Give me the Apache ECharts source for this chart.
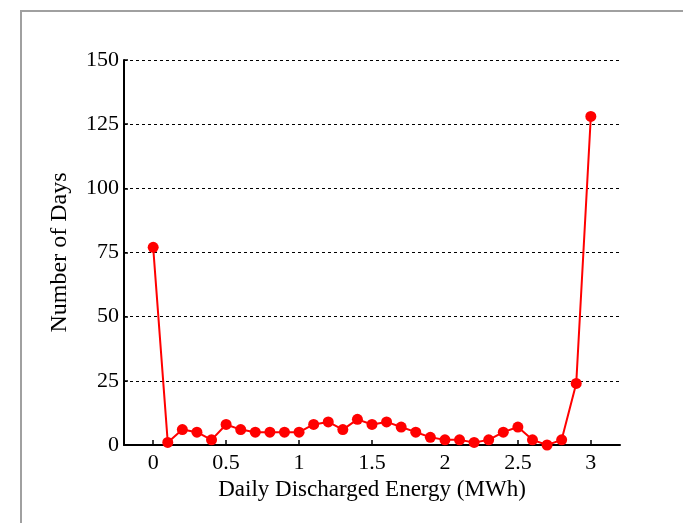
<!DOCTYPE html>
<html><head><meta charset="utf-8">
<script src="https://cdn.jsdelivr.net/npm/echarts@6/dist/echarts.min.js"></script>
<style>html,body{margin:0;padding:0;background:#fff}#c{width:683px;height:523px}</style>
</head><body><div id="c"></div>
<script>
const energy = [0,0.1,0.2,0.3,0.4,0.5,0.6,0.7,0.8,0.9,1.0,1.1,1.2,1.3,1.4,1.5,1.6,1.7,1.8,1.9,2.0,2.1,2.2,2.3,2.4,2.5,2.6,2.7,2.8,2.9,3.0];
const days = [77,1,6,5,2,8,6,5,5,5,5,8,9,6,10,8,9,7,5,3,2,2,1,2,5,7,2,0,2,24,128];
const xTickLabels = {'0':'0','0.5':'0.5','1':'1','1.5':'1.5','2':'2','2.5':'2.5','3':'3'};
const yTicks = [0,25,50,75,100,125,150];

const font = 'Liberation Serif';
const chart = echarts.init(document.getElementById('c'));
chart.setOption({
  animation:false,
  backgroundColor:'#fff',
  graphic:[{type:'rect',shape:{x:21,y:11,width:720,height:600},style:{fill:'none',stroke:'#a0a0a0',lineWidth:2},z:-1}],
  grid:{left:124,top:60,right:63,bottom:78},
  xAxis:{
    type:'value',min:-0.2,max:3.2,interval:0.1,
    name:'Daily Discharged Energy (MWh)',nameLocation:'middle',nameGap:33,
    nameTextStyle:{fontFamily:font,fontSize:23,color:'#000'},
    axisLine:{show:true,onZero:false,lineStyle:{color:'#000',width:2}},
    axisTick:{show:true,inside:true,length:5,lineStyle:{color:'#000',width:1.5},
      customValues:[0,0.5,1,1.5,2,2.5,3]},
    axisLabel:{fontFamily:font,fontSize:22,color:'#000',margin:7,
      customValues:[0,0.5,1,1.5,2,2.5,3],
      formatter:v=>{const k=String(Math.round(v*10)/10);return xTickLabels[k]||'';}},
    splitLine:{show:false}
  },
  yAxis:{
    type:'value',min:0,max:150,interval:25,
    name:'Number of Days',nameLocation:'middle',nameGap:52,
    nameTextStyle:{fontFamily:font,fontSize:24,color:'#000'},
    axisLine:{show:true,onZero:false,lineStyle:{color:'#000',width:2}},
    axisTick:{show:true,inside:true,length:4,lineStyle:{color:'#000',width:1.5}},
    axisLabel:{fontFamily:font,fontSize:22,color:'#000',margin:5,
      formatter:v=>yTicks.includes(v)?String(v):''},
    splitLine:{show:true,lineStyle:{color:'#000',type:[3,3],width:1}}
  },
  series:[{
    type:'line',
    data:energy.map((e,i)=>[e,days[i]]),
    symbol:'circle',symbolSize:11,
    lineStyle:{color:'#ff0000',width:2},
    itemStyle:{color:'#ff0000'},
    clip:false
  }]
});
</script></body></html>
